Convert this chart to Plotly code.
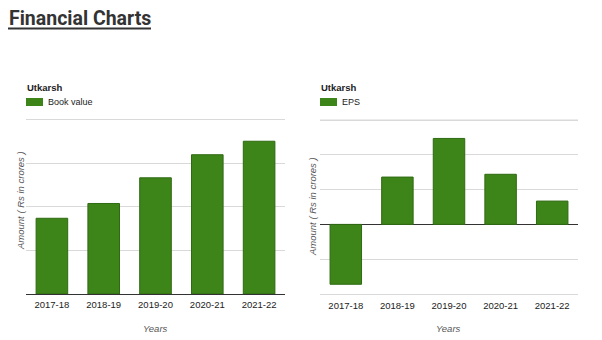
import plotly.graph_objects as go

years = ["2017-18", "2018-19", "2019-20", "2020-21", "2021-22"]
book_value = [870, 1040, 1335, 1600, 1755]
eps = [-8.6, 6.8, 12.35, 7.2, 3.35]
bv_ticks = [0, 500, 1000, 1500, 2000]
eps_ticks = [-10, -5, 0, 5, 10, 15]

GREEN = "#3d8419"
EDGE = "#2f6a12"
W, H = 602, 340

def fx(px):
    return px / W

def fy(py):
    return 1 - py / H

fig = go.Figure()
fig.add_trace(go.Bar(x=years, y=book_value, name="Book value", marker=dict(color=GREEN, line=dict(color=EDGE, width=1)),
                     xaxis="x", yaxis="y"))
fig.add_trace(go.Bar(x=years, y=eps, name="EPS", marker=dict(color=GREEN, line=dict(color=EDGE, width=1)),
                     xaxis="x2", yaxis="y2"))

FONT = "Liberation Sans, Arial"
tickfont = dict(family=FONT, size=9.5, color="#222")
grid = "#d9d9d9"

fig.update_layout(
    width=W, height=H, margin=dict(l=0, r=0, t=0, b=0),
    paper_bgcolor="white", plot_bgcolor="white",
    bargap=0.39, showlegend=False,
    xaxis=dict(domain=[fx(26), fx(285)], anchor="y", tickfont=tickfont, showline=True, linecolor="#333",
               linewidth=1, ticks="", showgrid=False, ticklabelstandoff=2),
    yaxis=dict(domain=[fy(294), fy(116)], anchor="x", range=[0, 2045], tickmode="array", tickvals=bv_ticks,
               showticklabels=False, gridcolor=grid, zeroline=False, showline=False, ticks=""),
    xaxis2=dict(domain=[fx(320), fx(578)], anchor="y2", tickfont=tickfont, showline=False, ticks="",
                showgrid=False, ticklabelstandoff=0),
    yaxis2=dict(domain=[fy(298), fy(116)], anchor="x2", range=[-10.575, 15.575], tickmode="array",
                tickvals=eps_ticks, showticklabels=False, gridcolor=grid, zeroline=True, zerolinecolor="#333",
                zerolinewidth=1, showline=False, ticks=""),
)

# top gridline of the EPS chart (kept explicit so it always shows)
fig.add_shape(type="line", xref="x2 domain", yref="y2", x0=0, x1=1, y0=eps_ticks[-1], y1=eps_ticks[-1],
              line=dict(color=grid, width=1), layer="below")

def ann(text, x, y, font, xanchor="center", angle=0):
    fig.add_annotation(text=text, x=fx(x), y=fy(y), xref="paper", yref="paper", showarrow=False,
                       xanchor=xanchor, yanchor="middle", textangle=angle, font=font)

ann("<b>Financial Charts</b>", 7, 18, dict(family="Roboto, Arial", size=19.5, color="#333"), xanchor="left")
fig.add_shape(type="line", xref="paper", yref="paper", x0=fx(8), x1=fx(151), y0=fy(28.5), y1=fy(28.5),
              line=dict(color="#333", width=2))

# legends (title + swatch + label) for each chart
for lx, label in [(26, "Book value"), (320, "EPS")]:
    ann("<b>Utkarsh</b>", lx - 1, 88, dict(family=FONT, size=9.5, color="#222"), xanchor="left")
    fig.add_shape(type="rect", xref="paper", yref="paper", x0=fx(lx), x1=fx(lx + 17), y0=fy(106), y1=fy(98),
                  fillcolor=GREEN, line=dict(width=0))
    ann(label, lx + 20, 102, dict(family=FONT, size=9, color="#222"), xanchor="left")

ann("<i>Years</i>", 155, 328, dict(family=FONT, size=9.5, color="#555"))
ann("<i>Years</i>", 449, 328, dict(family=FONT, size=9.5, color="#555"))
ann("<i>Amount ( Rs in crores )</i>", 20, 201, dict(family=FONT, size=9.5, color="#555"), angle=-90)
ann("<i>Amount ( Rs in crores )</i>", 313, 207, dict(family=FONT, size=9.5, color="#555"), angle=-90)

fig.write_html("out.html")
